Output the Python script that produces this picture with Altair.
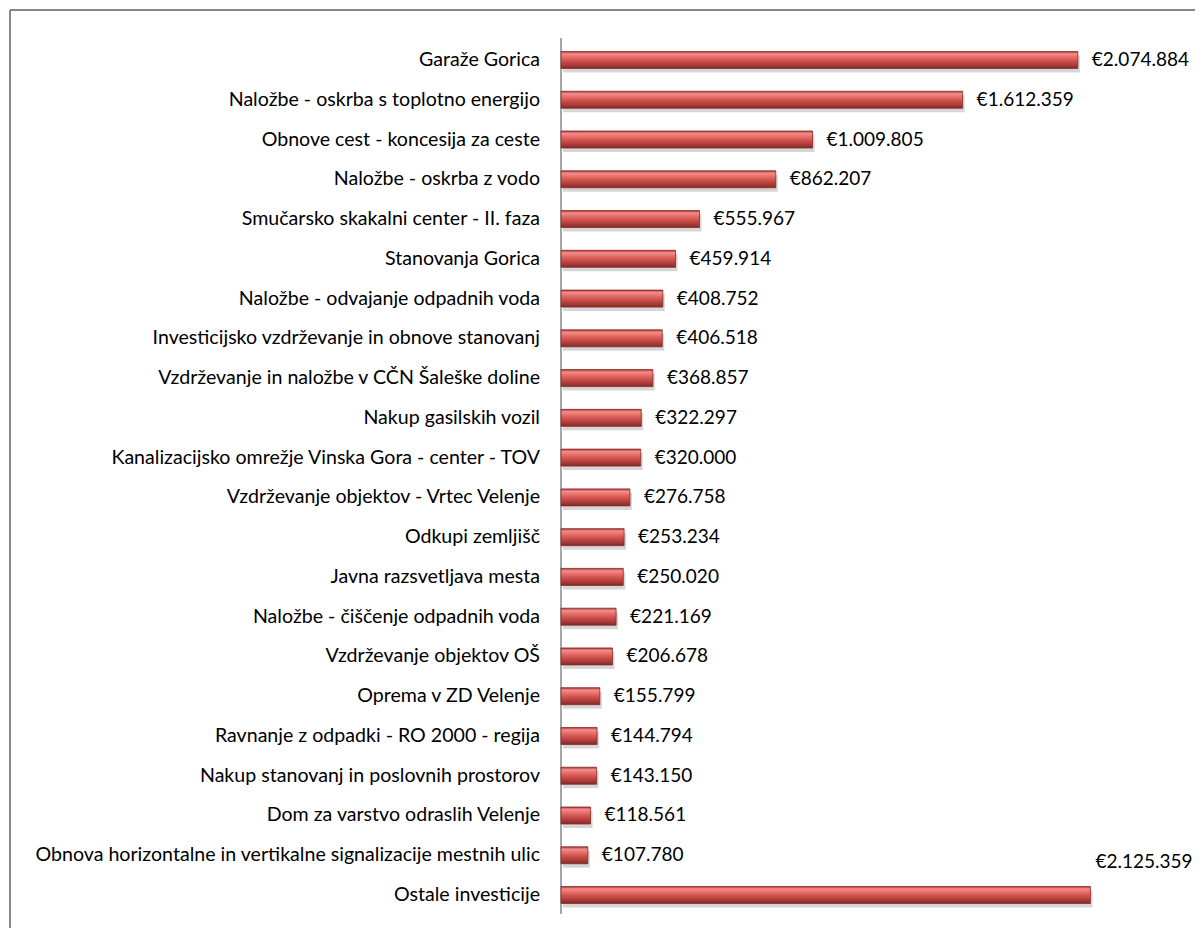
import altair as alt
import pandas as pd

categories = [
    "Garaže Gorica",
    "Naložbe - oskrba s toplotno energijo",
    "Obnove cest - koncesija za ceste",
    "Naložbe - oskrba z vodo",
    "Smučarsko skakalni center - II. faza",
    "Stanovanja Gorica",
    "Naložbe - odvajanje odpadnih voda",
    "Investicijsko vzdrževanje in obnove stanovanj",
    "Vzdrževanje in naložbe v CČN Šaleške doline",
    "Nakup gasilskih vozil",
    "Kanalizacijsko omrežje Vinska Gora - center - TOV",
    "Vzdrževanje objektov  - Vrtec Velenje",
    "Odkupi zemljišč",
    "Javna razsvetljava mesta",
    "Naložbe - čiščenje odpadnih voda",
    "Vzdrževanje objektov OŠ",
    "Oprema v ZD Velenje",
    "Ravnanje z odpadki - RO 2000 - regija",
    "Nakup stanovanj in poslovnih prostorov",
    "Dom za varstvo odraslih Velenje",
    "Obnova horizontalne in vertikalne signalizacije mestnih ulic",
    "Ostale investicije",
]
values = [
    2074884, 1612359, 1009805, 862207, 555967, 459914, 408752, 406518,
    368857, 322297, 320000, 276758, 253234, 250020, 221169, 206678,
    155799, 144794, 143150, 118561, 107780, 2125359,
]


def fmt(v):
    return "€" + f"{v:,}".replace(",", ".")


df = pd.DataFrame({
    "cat": categories,
    "val": values,
    "label": [fmt(v) for v in values],
    "last": [i == len(categories) - 1 for i in range(len(categories))],
})

W, H = 1185, 918
FONT = "Lato"

xs = alt.Scale(domain=[0, 2200000], range=[551, 1099], nice=False, zero=True)
ys = alt.Scale(domain=categories, range=[30.1, 904.9], paddingInner=0, paddingOuter=0)

base = alt.Chart(df)

shadow = base.mark_bar(size=17, color="#8a8a8a", opacity=0.35, yOffset=4, xOffset=2).encode(
    x=alt.X("val:Q", scale=xs, axis=None),
    y=alt.Y("cat:N", scale=ys, axis=None, sort=categories),
)

grad = alt.Gradient(
    gradient="linear",
    stops=[
        alt.GradientStop(color="#A8302E", offset=0),
        alt.GradientStop(color="#F28E8A", offset=0.14),
        alt.GradientStop(color="#E7716C", offset=0.32),
        alt.GradientStop(color="#CC4D49", offset=0.58),
        alt.GradientStop(color="#A63A37", offset=0.82),
        alt.GradientStop(color="#7E2926", offset=1),
    ],
    x1=0, x2=0, y1=0, y2=1,
)

bars = base.mark_bar(size=17, color=grad, stroke="#8A2B28", strokeWidth=0.8).encode(
    x=alt.X("val:Q", scale=xs, axis=None),
    y=alt.Y("cat:N", scale=ys, axis=None, sort=categories),
)

cat_text = base.transform_calculate(zero="0").mark_text(
    align="right", baseline="middle", dx=-21, font=FONT, fontSize=19.6, color="#000000"
).encode(
    x=alt.X("zero:Q", scale=xs, axis=None),
    y=alt.Y("cat:N", scale=ys, axis=None, sort=categories),
    text="cat:N",
)

val_text = base.transform_filter("!datum.last").mark_text(
    align="left", baseline="middle", dx=14, font=FONT, fontSize=19, color="#000000"
).encode(
    x=alt.X("val:Q", scale=xs, axis=None),
    y=alt.Y("cat:N", scale=ys, axis=None, sort=categories),
    text="label:N",
)

last_text = base.transform_filter("datum.last").mark_text(
    align="left", baseline="middle", dx=5, dy=-33, font=FONT, fontSize=19, color="#000000"
).encode(
    x=alt.X("val:Q", scale=xs, axis=None),
    y=alt.Y("cat:N", scale=ys, axis=None, sort=categories),
    text="label:N",
)

axis_line = base.transform_filter("datum.last").transform_calculate(zero="0").mark_rule(
    color="#A6A6A6", strokeWidth=2
).encode(
    x=alt.X("zero:Q", scale=xs, axis=None),
    y=alt.value(28),
    y2=alt.value(904),
)

frame_top = base.transform_filter("datum.last").mark_rule(color="#868686", strokeWidth=2).encode(
    x=alt.value(0), x2=alt.value(W), y=alt.value(0)
)
frame_left = base.transform_filter("datum.last").mark_rule(color="#868686", strokeWidth=2).encode(
    x=alt.value(0), y=alt.value(0), y2=alt.value(H)
)

chart = alt.layer(
    frame_top, frame_left, axis_line, shadow, bars, cat_text, val_text, last_text
).properties(
    width=W, height=H,
    padding={"left": 2, "top": 2, "right": 0, "bottom": 0},
    autosize=alt.AutoSizeParams(type="none"),
).configure_view(stroke=None).configure(background="#ffffff")

chart.save("out.html", embed_options={"renderer": "svg", "actions": False})
